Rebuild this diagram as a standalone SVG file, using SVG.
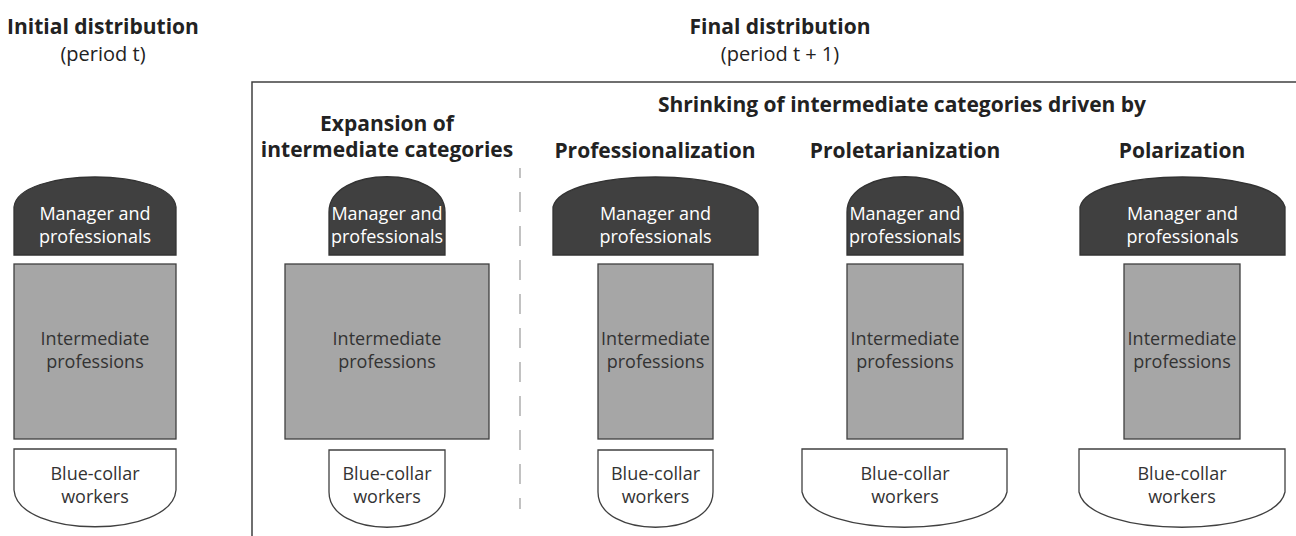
<svg xmlns="http://www.w3.org/2000/svg" width="1296" height="536" viewBox="0 0 1296 536">
<style>
text{font-family:"Open Sans","Liberation Sans",sans-serif;text-anchor:middle}
.t{font-size:21px;font-weight:bold;fill:#222}
.s{font-size:20px;fill:#222}
.lab{font-size:18px}
.mgr path{fill:#404040;stroke:#333;stroke-width:1.3}
.mgr text{fill:#fff}
.mid rect{fill:#a6a6a6;stroke:#404040;stroke-width:1.3}
.mid text{fill:#333}
.blue path{fill:#fff;stroke:#404040;stroke-width:1.3}
.blue text{fill:#333}
</style>
<rect width="1296" height="536" fill="#fff"/>
<g id="titles">
<text class="t" x="103" y="34">Initial distribution</text>
<text class="s" x="103" y="61">(period t)</text>
<text class="t" x="780" y="34">Final distribution</text>
<text class="s" x="780" y="61">(period t + 1)</text>
<text class="t" x="902" y="112">Shrinking of intermediate categories driven by</text>
<text class="t" x="387" y="131">Expansion of<tspan x="387" dy="26">intermediate categories</tspan></text>
<text class="t" x="655" y="158">Professionalization</text>
<text class="t" x="905" y="158">Proletarianization</text>
<text class="t" x="1182" y="158">Polarization</text>
</g>
<g id="connectors">
<path d="M252,536 V82 H1296" fill="none" stroke="#404040" stroke-width="1.5"/>
<line x1="520" y1="168" x2="520" y2="509" stroke="#999" stroke-width="1.2" stroke-dasharray="20 14" stroke-dashoffset="10"/>
</g>
<g id="initial-manager" class="mgr">
<path d="M14,255 L14,207 C18,167 172,167 176,207 L176,255 Z"/>
<text class="lab" x="95" y="220">Manager and<tspan x="95" dy="23">professionals</tspan></text>
</g>
<g id="initial-intermediate" class="mid">
<rect x="14" y="264" width="162" height="175"/>
<text class="lab" x="95" y="345">Intermediate<tspan x="95" dy="22.5">professions</tspan></text>
</g>
<g id="initial-blue" class="blue">
<path d="M14,449 H176 V490 C172,539 18,539 14,490 Z"/>
<text class="lab" x="95" y="480">Blue-collar<tspan x="95" dy="22.5">workers</tspan></text>
</g>
<g id="expansion-manager" class="mgr">
<path d="M329,255 L329,212 C329,165 445,165 445,212 L445,255 Z"/>
<text class="lab" x="387" y="220">Manager and<tspan x="387" dy="23">professionals</tspan></text>
</g>
<g id="expansion-intermediate" class="mid">
<rect x="285" y="264" width="204" height="175"/>
<text class="lab" x="387" y="345">Intermediate<tspan x="387" dy="22.5">professions</tspan></text>
</g>
<g id="expansion-blue" class="blue">
<path d="M329,450 H445 V492 C445,539 329,539 329,492 Z"/>
<text class="lab" x="387" y="480">Blue-collar<tspan x="387" dy="22.5">workers</tspan></text>
</g>
<g id="prof-manager" class="mgr">
<path d="M553,255 L553,207 C563,167 748,167 758,207 L758,255 Z"/>
<text class="lab" x="655.5" y="220">Manager and<tspan x="655.5" dy="23">professionals</tspan></text>
</g>
<g id="prof-intermediate" class="mid">
<rect x="598" y="264" width="115" height="175"/>
<text class="lab" x="655.5" y="345">Intermediate<tspan x="655.5" dy="22.5">professions</tspan></text>
</g>
<g id="prof-blue" class="blue">
<path d="M598,450 H713 V492 C713,539 598,539 598,492 Z"/>
<text class="lab" x="655.5" y="480">Blue-collar<tspan x="655.5" dy="22.5">workers</tspan></text>
</g>
<g id="prol-manager" class="mgr">
<path d="M847,255 L847,212 C847,165 963,165 963,212 L963,255 Z"/>
<text class="lab" x="905" y="220">Manager and<tspan x="905" dy="23">professionals</tspan></text>
</g>
<g id="prol-intermediate" class="mid">
<rect x="847" y="264" width="116" height="175"/>
<text class="lab" x="905" y="345">Intermediate<tspan x="905" dy="22.5">professions</tspan></text>
</g>
<g id="prol-blue" class="blue">
<path d="M802,449 H1007 V492 C997,539 812,539 802,492 Z"/>
<text class="lab" x="905" y="480">Blue-collar<tspan x="905" dy="22.5">workers</tspan></text>
</g>
<g id="polar-manager" class="mgr">
<path d="M1080,255 L1080,207 C1090,167 1275,167 1285,207 L1285,255 Z"/>
<text class="lab" x="1182.5" y="220">Manager and<tspan x="1182.5" dy="23">professionals</tspan></text>
</g>
<g id="polar-intermediate" class="mid">
<rect x="1124" y="264" width="116" height="175"/>
<text class="lab" x="1182" y="345">Intermediate<tspan x="1182" dy="22.5">professions</tspan></text>
</g>
<g id="polar-blue" class="blue">
<path d="M1079,449 H1285 V492 C1275,539 1089,539 1079,492 Z"/>
<text class="lab" x="1182" y="480">Blue-collar<tspan x="1182" dy="22.5">workers</tspan></text>
</g>
</svg>
